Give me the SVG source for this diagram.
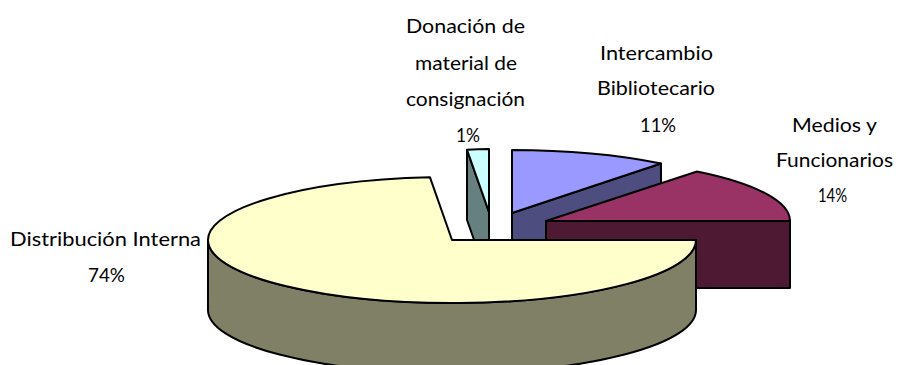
<svg xmlns="http://www.w3.org/2000/svg" width="898" height="365" viewBox="0 0 898 365">
<style>
.e{stroke:#000;stroke-width:2;stroke-linejoin:round}
.lbl{font-family:Lato,"Liberation Sans",sans-serif;font-size:19px;fill:#000;text-anchor:middle}
</style>
<rect width="898" height="365" fill="#fff"/>
<g id="donacion">
<polygon class="e" fill="#668080" points="467,150 489,212 489,282 467,220"/>
<path class="e" fill="#ccffff" d="M489,212 L489,149 A244 63 0 0 0 467,149.8 Z"/>
</g>
<g id="intercambio">
<polygon class="e" fill="#4d4d80" points="512,213 661,163.5 661,233.5 512,283"/>
<path class="e" fill="#9999ff" d="M512,213 L512,150 A244 63 0 0 1 661,163.5 Z"/>
</g>
<g id="medios">
<polygon class="e" fill="#4d1933" points="546,221 790,221 790,288 546,288"/>
<path class="e" fill="#993366" d="M546,221 L790,221 A244 63 0 0 0 697,171.5 Z"/>
</g>
<g id="distribucion">
<path class="e" fill="#808066" d="M208,240 A244 63 0 0 0 696,240 L696,310 A244 63 0 0 1 208,310 Z"/>
<path class="e" fill="#ffffcc" d="M452,240 L696,240 A244 63 0 1 1 430,177.3 Z"/>
</g>
<g id="labels">
<text class="lbl" x="465.5" y="33" textLength="119" lengthAdjust="spacingAndGlyphs">Donación de</text>
<text class="lbl" x="466" y="70" textLength="102" lengthAdjust="spacingAndGlyphs">material de</text>
<text class="lbl" x="465.5" y="106" textLength="119" lengthAdjust="spacingAndGlyphs">consignación</text>
<text class="lbl" x="468" y="142" textLength="24" lengthAdjust="spacingAndGlyphs">1%</text>
<text class="lbl" x="656.5" y="60" textLength="113" lengthAdjust="spacingAndGlyphs">Intercambio</text>
<text class="lbl" x="656" y="95" textLength="118" lengthAdjust="spacingAndGlyphs">Bibliotecario</text>
<text class="lbl" x="658" y="132" textLength="36" lengthAdjust="spacingAndGlyphs">11%</text>
<text class="lbl" x="834.5" y="132" textLength="85" lengthAdjust="spacingAndGlyphs">Medios y</text>
<text class="lbl" x="834.5" y="167" textLength="117" lengthAdjust="spacingAndGlyphs">Funcionarios</text>
<text class="lbl" x="832.5" y="202" textLength="29" lengthAdjust="spacingAndGlyphs">14%</text>
<text class="lbl" x="105.5" y="246" textLength="191" lengthAdjust="spacingAndGlyphs">Distribución Interna</text>
<text class="lbl" x="106.5" y="282" textLength="37" lengthAdjust="spacingAndGlyphs">74%</text>
</g>
</svg>
